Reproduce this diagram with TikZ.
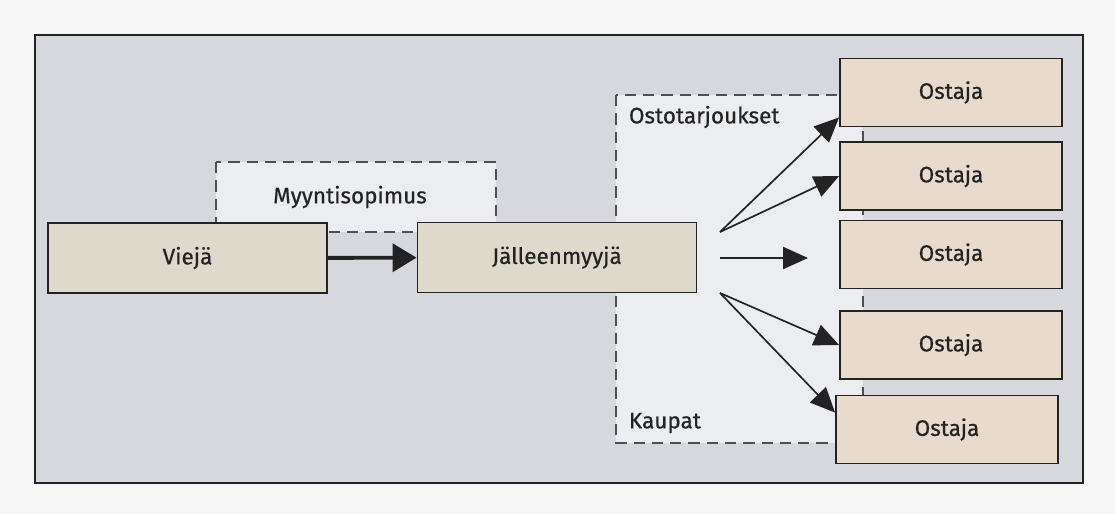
\documentclass[tikz,border=0pt]{standalone}
\usepackage{fontspec}
\setmainfont{Fira Sans}[UprightFeatures={FakeBold=.6}]
\usetikzlibrary{positioning,arrows.meta}

\definecolor{paper}{RGB}{246,246,246}
\definecolor{panel}{RGB}{214,216,221}
\definecolor{offer}{RGB}{236,237,240}
\definecolor{seller}{RGB}{221,218,204}
\definecolor{buyer}{RGB}{232,219,203}
\definecolor{ink}{RGB}{35,35,35}

\begin{document}
\begin{tikzpicture}[x=.025cm,y=-.025cm,
    box/.style={draw=ink,line width=1.3pt,minimum width=6.975cm,minimum height=1.75cm,
      text=ink,font=\fontsize{16}{19}\selectfont},
    sellerbox/.style={box,fill=seller},
    buyerbox/.style={box,fill=buyer,minimum width=5.55cm,minimum height=1.7cm},
    area/.style={draw=ink!80,line width=1.2pt,dash pattern=on 8pt off 5pt},
    lbl/.style={text=ink,font=\fontsize{16}{19}\selectfont},
    fan/.style={draw=ink,line width=1.2pt,-{Triangle[length=.62cm,width=.55cm]}}]
    \useasboundingbox (0,0) rectangle (1115,514);
    \fill[paper] (0,0) rectangle (1115,514);
    \draw[ink,line width=1.4pt,fill=panel] (35,35) rectangle (1083,483);

    % dashed areas
    \draw[area,fill=offer] (216,162) rectangle (496,232);
    \draw[area,fill=offer] (616,95) rectangle (863,443);
    \node[lbl] (sopimus) at (350,197) {Myyntisopimus};
    \node[lbl,anchor=west] (tarjous) at (624,117) {Ostotarjoukset};
    \node[lbl,anchor=west] (kaupat) at (624,423) {Kaupat};

    \node[sellerbox] (vieja) at (187.5,258) {Viejä};
    \node[sellerbox] (jalleen) at (557,257.5) {Jälleenmyyjä};

    \node[buyerbox] (o1) at (951,92.5) {Ostaja};
    \node[buyerbox] (o2) at (951,176) {Ostaja};
    \node[buyerbox] (o3) at (951,254.5) {Ostaja};
    \node[buyerbox] (o4) at (951,345) {Ostaja};
    \node[buyerbox] (o5) at (947,429.5) {Ostaja};

    \coordinate (fanup) at (720,232);
    \coordinate (fanmid) at (720,258);
    \coordinate (fandown) at (720,293);
    \coordinate (midtip) at (808,258);

    \draw[ink,line width=2.8pt,-{Triangle[length=.6cm,width=.7cm]}] (vieja) -- (jalleen);
    \draw[fan] (fanup) -- ([yshift=.25cm]o1.south west);
    \draw[fan] (fanup) -- (o2.west);
    \draw[fan] (fanmid) -- (midtip);
    \draw[fan] (fandown) -- (o4.west);
    \draw[fan] (fandown) -- ([yshift=-.45cm]o5.north west);
\end{tikzpicture}
\end{document}
